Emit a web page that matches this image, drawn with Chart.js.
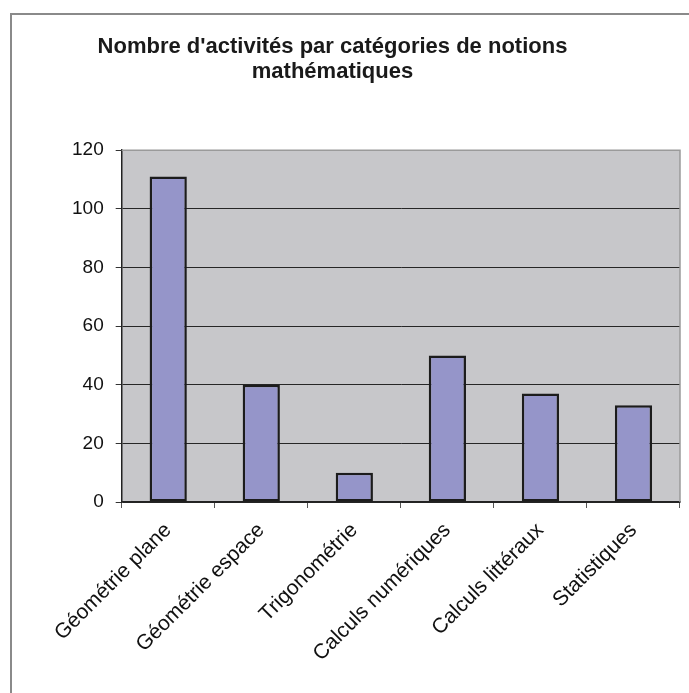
<!DOCTYPE html>
<html>
<head>
<meta charset="utf-8">
<script src="https://cdn.jsdelivr.net/npm/chart.js@4.4.0/dist/chart.umd.min.js"></script>
<style>
  html, body { margin: 0; padding: 0; background: #ffffff; overflow: hidden; width: 689px; height: 693px; }
  #frame { position: absolute; left: 10px; top: 13px; width: 720px; height: 720px;
           border-left: 2px solid #8a8a8a; border-top: 2px solid #8a8a8a; }
  #wrap { position: absolute; left: -15px; top: 0; width: 704px; height: 693px; }
</style>
</head>
<body>
<div id="frame"></div>
<div id="wrap"><canvas id="c" width="704" height="693"></canvas></div>
<script>
const categories = ["Géométrie plane", "Géométrie espace", "Trigonométrie", "Calculs numériques", "Calculs littéraux", "Statistiques"];
const activityCounts = [111, 40, 10, 50, 37, 33];
const yTicks = [0, 20, 40, 60, 80, 100, 120];
const titleLines = ["Nombre d'activités par catégories de notions", "mathématiques"];

const FONT = "'Liberation Sans', Arial, Helvetica, sans-serif";

const plotBackground = {
  id: 'plotBackground',
  beforeDraw(chart) {
    const a = chart.chartArea, ctx = chart.ctx;
    ctx.save();
    ctx.fillStyle = '#c7c7ca';
    ctx.fillRect(a.left, a.top, a.right - a.left, a.bottom - a.top);
    ctx.restore();
  },
  afterDatasetsDraw(chart) {
    const a = chart.chartArea, ctx = chart.ctx;
    ctx.save();
    ctx.strokeStyle = '#9a9a9a';
    ctx.lineWidth = 1.5;
    ctx.beginPath();
    ctx.moveTo(a.left, a.top);
    ctx.lineTo(a.right, a.top);
    ctx.lineTo(a.right, a.bottom);
    ctx.stroke();
    ctx.restore();
  }
};

new Chart(document.getElementById('c'), {
  type: 'bar',
  data: {
    labels: categories,
    datasets: [{
      data: activityCounts,
      backgroundColor: '#9595c9',
      borderColor: '#1c1c1c',
      borderWidth: 2.5,
      borderSkipped: false,
      barPercentage: 0.4,
      categoryPercentage: 1.0
    }]
  },
  options: {
    responsive: false,
    animation: false,
    layout: { padding: { left: 0, right: 9, top: 0, bottom: 0 } },
    plugins: {
      legend: { display: false },
      tooltip: { enabled: false },
      title: {
        display: true,
        text: titleLines,
        color: '#1a1a1a',
        font: { family: FONT, size: 22, weight: 'bold', lineHeight: 1.14 },
        padding: { top: 34, bottom: 66 }
      }
    },
    scales: {
      x: {
        grid: { display: true, drawOnChartArea: false, drawTicks: true, tickLength: 6, color: '#555555', offset: true },
        border: { display: true, color: '#222222', width: 1.5 },
        ticks: {
          autoSkip: false, maxRotation: 45, minRotation: 45, padding: 10,
          color: '#111111', font: { family: FONT, size: 21 }
        },
        afterFit(scale) { scale.height = 191; }
      },
      y: {
        min: 0, max: 120,
        afterBuildTicks(scale) { scale.ticks = yTicks.map(v => ({ value: v })); },
        grid: {
          color: ctx => (ctx.tick && ctx.tick.value === 120) ? '#9a9a9a' : '#262626',
          lineWidth: 1,
          drawTicks: true, tickLength: 6,
          tickColor: '#333333'
        },
        border: { display: true, color: '#222222', width: 1.5 },
        ticks: {
          padding: 12, color: '#111111', font: { family: FONT, size: 19 }
        },
        afterFit(scale) { scale.width = 136.7; }
      }
    }
  },
  plugins: [plotBackground]
});
</script>
</body>
</html>
